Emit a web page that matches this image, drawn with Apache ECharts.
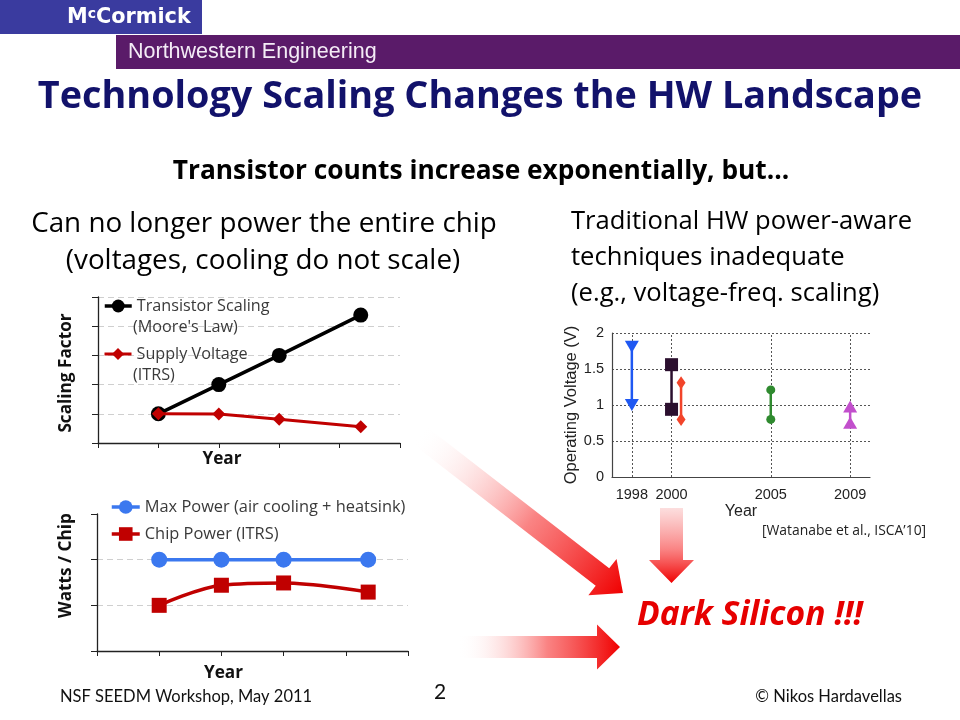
<!DOCTYPE html>
<html><head><meta charset="utf-8">
<script src="https://cdn.jsdelivr.net/npm/echarts@6/dist/echarts.min.js"></script>
<style>html,body{margin:0;padding:0;background:#fff}#c{width:960px;height:720px}</style>
</head><body><div id="c"></div>
<script>
// ---------- data ----------
// Top-left chart (Scaling Factor vs Year), x = year index
const scalingX = [1, 2, 3, 4.35];
const transistorScaling = [1, 2, 3, 4.38];
const supplyVoltage = [1, 0.99, 0.81, 0.56];
// Bottom-left chart (Watts / Chip vs Year)
const powerX = [1, 2, 3, 4.36];
const maxPower = [2, 2, 2, 2];
const chipPower = [1, 1.44, 1.49, 1.29];
// Right chart (Operating Voltage ranges)
const voltYears = [1998, 2000, 2000.48, 2005, 2009];
const voltHigh = [1.81, 1.56, 1.31, 1.21, 0.98];
const voltLow = [1.0, 0.94, 0.80, 0.80, 0.755];
const voltTickYears = [1998, 2000, 2005, 2009];

// ---------- styles ----------
const voltColors = ['#1f58f2', '#2b0f2e', '#f2442a', '#2f8a2f', '#c24fcc'];
const voltSymbols = ['triangle', 'rect', 'diamond', 'circle', 'triangle'];
const voltSizes = [[14, 12], [13, 13], [9, 13], [9, 9], [14, 12]];
const voltRotate = [180, 0, 0, 0, 0];

const CAL = 'Lato, "Open Sans", sans-serif';
const OS = '"Open Sans", Lato, sans-serif';
const HEL = '"Liberation Sans", Arial, sans-serif';

function zip(xs, ys) { return xs.map((x, i) => [x, ys[i]]); }

function arrowPts(tail, tip, sh, hh, hl) {
  const dx = tip[0] - tail[0], dy = tip[1] - tail[1];
  const L = Math.hypot(dx, dy), ux = dx / L, uy = dy / L, nx = -uy, ny = ux;
  const bx = tip[0] - ux * hl, by = tip[1] - uy * hl;
  return [[tail[0] + nx * sh, tail[1] + ny * sh], [bx + nx * sh, by + ny * sh], [bx + nx * hh, by + ny * hh], tip,
          [bx - nx * hh, by - ny * hh], [bx - nx * sh, by - ny * sh], [tail[0] - nx * sh, tail[1] - ny * sh]];
}
function arrow(tail, tip, sh, hh, hl, startColor) {
  return {
    type: 'polygon', silent: true, z: 0,
    shape: { points: arrowPts(tail, tip, sh, hh, hl) },
    style: { fill: { type: 'linear', global: true, x: tail[0], y: tail[1], x2: tip[0], y2: tip[1],
      colorStops: [{ offset: 0, color: startColor }, { offset: 0.55, color: 'rgba(248,90,90,0.75)' }, { offset: 1, color: '#f00000' }] } }
  };
}
function txt(x, y, text, size, opt) {
  return Object.assign({ type: 'text', silent: true, z: 10, style: Object.assign({
    x: x, y: y, text: text, fontSize: size, fontFamily: OS, fill: '#000', textAlign: 'left', textVerticalAlign: 'middle'
  }, opt || {}) });
}

const chart = echarts.init(document.getElementById('c'), null, { renderer: 'canvas' });

const voltSeries = voltYears.map((yr, i) => ({
  type: 'line', xAxisIndex: 2, yAxisIndex: 2, z: 3,
  data: [[yr, voltHigh[i]], [yr, voltLow[i]]],
  symbol: voltSymbols[i], symbolSize: voltSizes[i], symbolRotate: voltRotate[i],
  lineStyle: { color: voltColors[i], width: 2.5 }, itemStyle: { color: voltColors[i] },
  animation: false
}));

const axisNameStyle = (pad) => ({ fontFamily: OS, fontWeight: 'bold', fontSize: 17.2, color: '#111', padding: pad });
const legendText = size => ({ fontFamily: OS, fontSize: size, color: '#3a3a3a' });

const option = {
  animation: false,
  backgroundColor: '#fff',
  grid: [
    { left: 98, top: 297, width: 302, height: 146 },
    { left: 97, top: 514, width: 311, height: 137 },
    { left: 612, top: 333, width: 258, height: 144 }
  ],
  xAxis: [
    { gridIndex: 0, type: 'value', min: 0, max: 5, interval: 1,
      name: 'Year', nameLocation: 'middle', nameGap: 8, nameTextStyle: axisNameStyle([0, 54, 0, 0]),
      axisLine: { lineStyle: { color: '#222', width: 1.3 } },
      axisTick: { show: true, length: 5, lineStyle: { color: '#222' } },
      axisLabel: { show: false }, splitLine: { show: false } },
    { gridIndex: 1, type: 'value', min: 0, max: 5, interval: 1,
      name: 'Year', nameLocation: 'middle', nameGap: 14, nameTextStyle: axisNameStyle([0, 58, 0, 0]),
      axisLine: { lineStyle: { color: '#222', width: 1.3 } },
      axisTick: { show: true, length: 5, lineStyle: { color: '#222' } },
      axisLabel: { show: false }, splitLine: { show: false } },
    { gridIndex: 2, type: 'value', min: 1997, max: 2010, interval: 1,
      name: 'Year', nameLocation: 'middle', nameGap: 27,
      nameTextStyle: { fontFamily: HEL, fontSize: 16, color: '#222' },
      axisLine: { lineStyle: { color: '#444', width: 1.2 } },
      axisTick: { show: false },
      axisLabel: { fontFamily: HEL, fontSize: 14.5, color: '#222', margin: 10,
        formatter: v => voltTickYears.indexOf(v) >= 0 ? String(v) : '' },
      splitLine: { show: false } }
  ],
  yAxis: [
    { gridIndex: 0, type: 'value', min: 0, max: 5, interval: 1,
      name: 'Scaling Factor', nameLocation: 'middle', nameGap: 23, nameTextStyle: axisNameStyle([0, 6, 0, 0]),
      axisLine: { show: true, lineStyle: { color: '#222', width: 1.3 } },
      axisTick: { show: true, length: 6, lineStyle: { color: '#222' } },
      axisLabel: { show: false },
      splitLine: { show: true, showMinLine: false, lineStyle: { color: '#cfcfcf', type: [6, 4], width: 1 } } },
    { gridIndex: 1, type: 'value', min: 0, max: 3, interval: 1,
      name: 'Watts / Chip', nameLocation: 'middle', nameGap: 22, nameTextStyle: axisNameStyle([0, 0, 0, 34]),
      axisLine: { show: true, lineStyle: { color: '#222', width: 1.3 } },
      axisTick: { show: true, length: 6, lineStyle: { color: '#222' } },
      axisLabel: { show: false },
      splitLine: { show: true, showMinLine: false, showMaxLine: false, lineStyle: { color: '#cfcfcf', type: [6, 4], width: 1 } } },
    { gridIndex: 2, type: 'value', min: 0, max: 2, interval: 0.5,
      name: 'Operating Voltage (V)', nameLocation: 'middle', nameGap: 30,
      nameTextStyle: { fontFamily: HEL, fontSize: 16.5, color: '#222' },
      axisLine: { show: true, lineStyle: { color: '#444', width: 1.2 } },
      axisTick: { show: false },
      axisLabel: { fontFamily: HEL, fontSize: 14.5, color: '#222', margin: 8 },
      splitLine: { show: true, showMinLine: false, lineStyle: { color: '#555', type: [2, 2], width: 1 } } }
  ],
  legend: [
    { data: ['Transistor Scaling'], left: 103, top: 298, padding: 0, itemWidth: 27, itemHeight: 16, selectedMode: false,
      lineStyle: { width: 3.5 }, textStyle: legendText(16.2) },
    { data: ['Supply Voltage'], left: 103, top: 346, padding: 0, itemWidth: 27, itemHeight: 15, selectedMode: false,
      lineStyle: { width: 3 }, textStyle: legendText(16.2) },
    { data: ['Max Power (air cooling + heatsink)'], left: 110, top: 499, padding: 0, itemWidth: 28, itemHeight: 17, selectedMode: false,
      lineStyle: { width: 3.5 }, textStyle: legendText(16.4) },
    { data: ['Chip Power (ITRS)'], left: 110, top: 526, padding: 0, itemWidth: 28, itemHeight: 17, selectedMode: false,
      lineStyle: { width: 3.5 }, textStyle: legendText(16.4) }
  ],
  series: [
    { name: 'Transistor Scaling', type: 'line', xAxisIndex: 0, yAxisIndex: 0, z: 3,
      data: zip(scalingX, transistorScaling), symbol: 'circle', symbolSize: 15,
      lineStyle: { color: '#000', width: 3.5 }, itemStyle: { color: '#000' } },
    { name: 'Supply Voltage', type: 'line', xAxisIndex: 0, yAxisIndex: 0, z: 4,
      data: zip(scalingX, supplyVoltage), symbol: 'diamond', symbolSize: 13,
      lineStyle: { color: '#c00000', width: 3 }, itemStyle: { color: '#c00000' } },
    { name: 'Max Power (air cooling + heatsink)', type: 'line', xAxisIndex: 1, yAxisIndex: 1, z: 3,
      data: zip(powerX, maxPower), symbol: 'circle', symbolSize: 16,
      lineStyle: { color: '#3b78ef', width: 3.5 }, itemStyle: { color: '#3b78ef' } },
    { name: 'Chip Power (ITRS)', type: 'line', xAxisIndex: 1, yAxisIndex: 1, z: 3, smooth: 0.35,
      data: zip(powerX, chipPower), symbol: 'rect', symbolSize: 15,
      lineStyle: { color: '#c00000', width: 3.5 }, itemStyle: { color: '#c00000' } },
    { type: 'line', xAxisIndex: 2, yAxisIndex: 2, z: 1, data: [],
      markLine: { silent: true, symbol: 'none', z: 1, label: { show: false },
        lineStyle: { color: '#555', type: [2, 2], width: 1 },
        data: voltTickYears.map(y => ({ xAxis: y })) } }
  ].concat(voltSeries),
  graphic: [
    // header bars
    { type: 'rect', silent: true, shape: { x: 0, y: 0, width: 202, height: 34 }, style: { fill: '#3a3b9f' } },
    { type: 'rect', silent: true, shape: { x: 116, y: 35, width: 844, height: 34 }, style: { fill: '#5a1b69' } },
    { type: 'text', silent: true, z: 10, style: { x: 67, y: 18, textVerticalAlign: 'middle',
      text: '{m|M}{c|c}{m|Cormick}',
      rich: { m: { fontFamily: '"DejaVu Sans"', fontWeight: 'bold', fontSize: 20.8, fill: '#fff' },
              c: { fontFamily: '"DejaVu Sans"', fontWeight: 'bold', fontSize: 14, fill: '#fff', verticalAlign: 'top', padding: [0, 0, 7, 0] } } } },
    txt(128, 52, 'Northwestern Engineering', 21.5, { fontFamily: HEL, fill: '#f4ecf6' }),
    // title & subtitle
    txt(480, 97, 'Technology Scaling Changes the HW Landscape', 37.8, { textAlign: 'center', fontWeight: 'bold', fill: '#12126b' }),
    txt(481, 172, 'Transistor counts increase exponentially, but\u2026', 26.3, { textAlign: 'center', fontWeight: 'bold' }),
    txt(264, 224, 'Can no longer power the entire chip', 27.8, { textAlign: 'center' }),
    txt(263, 261, '(voltages, cooling do not scale)', 27.8, { textAlign: 'center' }),
    txt(571, 222, 'Traditional HW power-aware', 25.6),
    txt(571, 258, 'techniques inadequate', 25.6),
    txt(571, 294, '(e.g., voltage-freq. scaling)', 25.6),
    // legend continuation lines
    txt(133, 327, "(Moore's Law)", 16.2, { fill: '#3a3a3a' }),
    txt(133, 375, '(ITRS)', 16.2, { fill: '#3a3a3a' }),
    txt(762, 531, "[Watanabe et al., ISCA\u201910]", 13.9, { fill: '#222' }),
    txt(637, 615, 'Dark Silicon !!!', 33.6, { fontWeight: 'bold', fontStyle: 'italic', fill: '#e60000' }),
    // footer
    txt(60, 697, 'NSF SEEDM Workshop, May 2011', 16.5, { fontFamily: CAL, fill: '#111' }),
    txt(440, 692, '2', 21, { fontFamily: CAL, textAlign: 'center', fill: '#111' }),
    txt(902, 697, '\u00a9 Nikos Hardavellas', 16.5, { fontFamily: CAL, textAlign: 'right', fill: '#111' }),
    // arrows
    arrow([418, 434], [623, 593], 11, 23, 26, 'rgba(255,255,255,0)'),
    arrow([671.5, 508], [671.5, 583], 11.5, 22.5, 23, 'rgba(250,200,200,0.6)'),
    arrow([458, 647], [620, 647], 11, 22.5, 23, 'rgba(255,255,255,0)')
  ]
};
chart.setOption(option);
</script></body></html>
